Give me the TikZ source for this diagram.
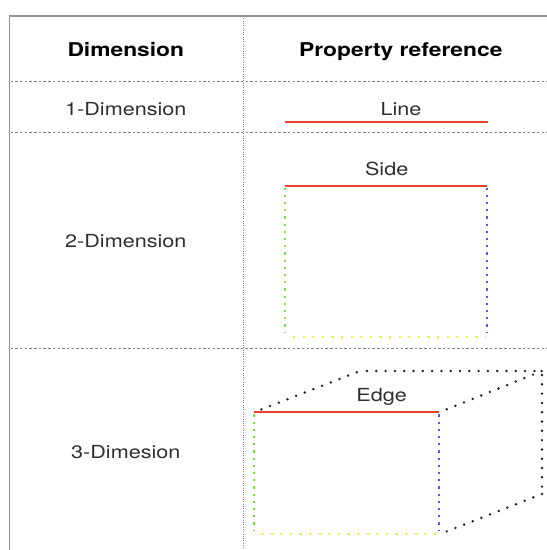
\documentclass[tikz,border=0pt]{standalone}
\usepackage{fontspec}
\setmainfont[FakeStretch=1.2]{TeX Gyre Heros}
\definecolor{txt}{HTML}{2E2E2E}
\definecolor{myred}{HTML}{E8412E}
\definecolor{mygreen}{HTML}{7DDC45}
\definecolor{myblue}{HTML}{4A5CF2}
\definecolor{myyellow}{HTML}{F2EE3A}
\definecolor{dotblack}{HTML}{1E1E1E}
\begin{document}
\begin{tikzpicture}[x=1pt,y=-1pt,
  gridsolid/.style={draw=gray!85, line width=1.4pt},
  griddash/.style={draw=gray, line width=1pt, dash pattern=on 2.5pt off 2.2pt},
  griddot/.style={draw=gray, line width=1pt, dash pattern=on 1pt off 1.3pt},
  head/.style={anchor=base, font=\fontsize{19}{22}\selectfont\bfseries, text=black, inner sep=0pt},
  cell/.style={anchor=base, font=\fontsize{18}{21}\selectfont, text=txt, inner sep=0pt},
  rededge/.style={draw=myred, line width=2pt},
  gdots/.style={draw=mygreen, line width=2.3pt, dash pattern=on 2.2pt off 5pt},
  bdots/.style={draw=myblue, line width=2.3pt, dash pattern=on 2.2pt off 5pt},
  ydots/.style={draw=myyellow, line width=2.3pt, dash pattern=on 2.2pt off 7.4pt},
  kdots/.style={draw=dotblack, line width=2.7pt, line cap=round, dash pattern=on 0pt off 9.3pt},
]
\useasboundingbox (0,0) rectangle (547,550);

% table frame
\coordinate (tl) at (9.5,16);
\coordinate (tr) at (547,16);
\coordinate (bl) at (9.5,550);
\coordinate (vt) at (243,16);
\coordinate (vb) at (243,550);
\coordinate (h1l) at (10.5,81.5);  \coordinate (h1r) at (547,81.5);
\coordinate (h2l) at (10.5,132);   \coordinate (h2r) at (547,132);
\coordinate (h3l) at (10.5,348.3); \coordinate (h3r) at (547,348.3);
\draw[griddash] (h1l) -- (h1r);
\draw[griddash] (h2l) -- (h2r);
\draw[griddash] (h3l) -- (h3r);
\draw[griddot] (vt) -- (vb);
\draw[gridsolid] (bl) -- (tl) -- (tr);

% header
\node[head] (hdim) at (125.8,56.5) {Dimension};
\node[head] (hprop) at (400.8,56.5) {Property reference};

% row 1
\node[cell] (r1) at (125.8,115) {1-Dimension};
\node[cell] (tline) at (401,115) {Line};
\coordinate (l1a) at (285,121.7);
\coordinate (l1b) at (487.7,121.7);
\draw[rededge] (l1a) -- (l1b);

% row 2
\node[cell] (r2) at (125.8,247.5) {2-Dimension};
\node[cell] (tside) at (386.7,175.5) {Side};
\coordinate (sTL) at (285,186);
\coordinate (sTR) at (487,186);
\coordinate (sBR) at (487,337.3);
\coordinate (sBL) at (285,337.3);
\draw[rededge] (sTL) -- (sTR);
\draw[gdots, shorten <=1.5pt, shorten >=4pt] (sTL) -- (sBL);
\draw[bdots, shorten <=1.5pt, shorten >=4pt] (sTR) -- (sBR);
\draw[ydots, shorten <=8pt, shorten >=1.5pt] (sBL) -- (sBR);

% row 3
\node[cell] (r3) at (125.8,458.5) {3-Dimesion};
\node[cell] (tedge) at (381.7,401.5) {Edge};
\coordinate (fTL) at (254,412.3);
\coordinate (fTR) at (439.3,412.3);
\coordinate (fBR) at (439.3,534.3);
\coordinate (fBL) at (254,534.3);
\coordinate (bTL) at (360,371);
\coordinate (bTR) at (542,371);
\coordinate (bBR) at (542,494);
\draw[rededge] (fTL) -- (fTR);
\draw[gdots, shorten <=2pt, shorten >=4pt] (fTL) -- (fBL);
\draw[bdots, shorten <=2pt, shorten >=4pt] (fTR) -- (fBR);
\draw[ydots, shorten <=7pt, shorten >=3pt] (fBL) -- (fBR);
\draw[kdots, shorten <=8pt] (fTL) -- (bTL);
\draw[kdots, shorten <=7pt] (bTL) -- (bTR);
\draw[kdots, shorten <=8pt] (fTR) -- (bTR);
\draw[kdots, shorten <=4pt] (bTR) -- (bBR);
\draw[kdots, shorten <=8pt] (fBR) -- (bBR);
\end{tikzpicture}
\end{document}
